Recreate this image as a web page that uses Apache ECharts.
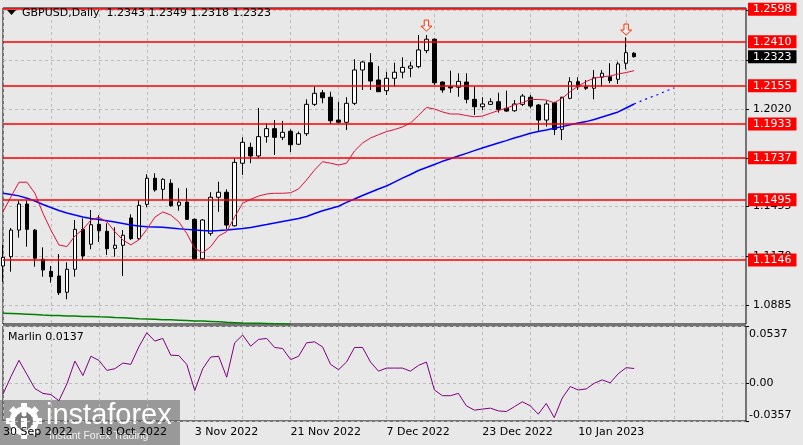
<!DOCTYPE html>
<html><head><meta charset="utf-8">
<script src="https://cdn.jsdelivr.net/npm/echarts@6/dist/echarts.min.js"></script>
<style>html,body{margin:0;padding:0;background:#e8e8e8}#c{width:803px;height:445px}</style>
</head><body><div id="c"></div>
<script>
const dates = ['30 Sep 2022','3 Oct 2022','4 Oct 2022','5 Oct 2022','6 Oct 2022','7 Oct 2022','10 Oct 2022','11 Oct 2022','12 Oct 2022','13 Oct 2022','14 Oct 2022','17 Oct 2022','18 Oct 2022',
'19 Oct 2022','20 Oct 2022','21 Oct 2022','24 Oct 2022','25 Oct 2022','26 Oct 2022','27 Oct 2022','28 Oct 2022','31 Oct 2022','1 Nov 2022','2 Nov 2022','3 Nov 2022',
'4 Nov 2022','7 Nov 2022','8 Nov 2022','9 Nov 2022','10 Nov 2022','11 Nov 2022','14 Nov 2022','15 Nov 2022','16 Nov 2022','17 Nov 2022','18 Nov 2022','21 Nov 2022',
'22 Nov 2022','23 Nov 2022','24 Nov 2022','25 Nov 2022','28 Nov 2022','29 Nov 2022','30 Nov 2022','1 Dec 2022','2 Dec 2022','5 Dec 2022','6 Dec 2022','7 Dec 2022',
'8 Dec 2022','9 Dec 2022','12 Dec 2022','13 Dec 2022','14 Dec 2022','15 Dec 2022','16 Dec 2022','19 Dec 2022','20 Dec 2022','21 Dec 2022','22 Dec 2022','23 Dec 2022',
'26 Dec 2022','27 Dec 2022','28 Dec 2022','29 Dec 2022','30 Dec 2022','2 Jan 2023','3 Jan 2023','4 Jan 2023','5 Jan 2023','6 Jan 2023','9 Jan 2023','10 Jan 2023',
'11 Jan 2023','12 Jan 2023','13 Jan 2023','16 Jan 2023','17 Jan 2023','18 Jan 2023','19 Jan 2023'];

const open  = [1.1111,1.1165,1.1319,1.1470,1.1319,1.1150,1.1080,1.1053,1.0959,1.1092,1.1323,1.1237,1.1352,1.1312,1.1213,1.1231,1.1389,1.1269,1.1468,1.1619,
1.1555,1.1590,1.1462,1.1481,1.1381,1.1153,1.1300,1.1509,1.1538,1.1344,1.1706,1.1798,1.1748,1.1860,1.1906,1.1856,1.1891,1.1816,1.1877,1.2047,
1.2114,1.2088,1.1956,1.1943,1.2053,1.2246,1.2288,1.2188,1.2126,1.2198,1.2233,1.2256,1.2265,1.2358,1.2424,1.2176,1.2149,1.2146,1.2176,1.2076,
1.2033,1.2047,1.2062,1.2024,1.2010,1.2047,1.2088,1.2043,1.1956,1.2056,1.1902,1.2082,1.2178,1.2149,1.2140,1.2204,1.2207,1.2192,1.2285,1.2343];
const high  = [1.1233,1.1331,1.1489,1.1489,1.1325,1.1219,1.1111,1.1180,1.1132,1.1377,1.1387,1.1435,1.1405,1.1358,1.1335,1.1319,1.1410,1.1493,1.1642,1.1648,
1.1619,1.1613,1.1561,1.1561,1.1387,1.1383,1.1538,1.1599,1.1555,1.1735,1.1856,1.1825,1.2026,1.1937,1.1956,1.1951,1.1902,1.1889,1.2076,1.2149,
1.2130,1.2120,1.2062,1.2088,1.2308,1.2300,1.2343,1.2269,1.2236,1.2288,1.2319,1.2294,1.2448,1.2448,1.2429,1.2180,1.2242,1.2227,1.2227,1.2149,
1.2088,1.2082,1.2114,1.2126,1.2072,1.2107,1.2101,1.2049,1.2068,1.2062,1.2091,1.2204,1.2204,1.2188,1.2246,1.2246,1.2285,1.2294,1.2435,1.2349];
const low   = [1.1020,1.1078,1.1275,1.1223,1.1107,1.1049,1.1014,1.0943,1.0918,1.1049,1.1146,1.1208,1.1250,1.1175,1.1165,1.1053,1.1262,1.1262,1.1451,1.1541,
1.1493,1.1454,1.1431,1.1377,1.1146,1.1146,1.1286,1.1425,1.1325,1.1339,1.1638,1.1706,1.1735,1.1825,1.1754,1.1840,1.1771,1.1812,1.1864,1.2037,
1.2053,1.1933,1.1937,1.1898,1.2043,1.2130,1.2130,1.2120,1.2101,1.2149,1.2198,1.2204,1.2256,1.2343,1.2159,1.2114,1.2114,1.2091,1.2053,1.1985,
1.2014,1.2043,1.1999,1.2004,1.2004,1.2037,1.2024,1.1893,1.1918,1.1869,1.1840,1.2076,1.2130,1.2130,1.2076,1.2149,1.2169,1.2165,1.2250,1.2318];
const close = [1.1161,1.1319,1.1470,1.1323,1.1156,1.1088,1.1049,1.0956,1.1092,1.1323,1.1169,1.1350,1.1315,1.1211,1.1231,1.1289,1.1269,1.1462,1.1619,1.1551,
1.1613,1.1460,1.1481,1.1381,1.1151,1.1377,1.1509,1.1538,1.1348,1.1711,1.1827,1.1748,1.1860,1.1906,1.1856,1.1885,1.1813,1.1877,1.2047,1.2111,
1.2085,1.1952,1.1943,1.2053,1.2246,1.2292,1.2182,1.2120,1.2198,1.2233,1.2261,1.2269,1.2362,1.2424,1.2172,1.2130,1.2142,1.2180,1.2076,1.2033,
1.2049,1.2062,1.2018,1.2008,1.2049,1.2095,1.2037,1.1956,1.2049,1.1902,1.2088,1.2178,1.2149,1.2140,1.2201,1.2227,1.2184,1.2281,1.2346,1.2323];

const maFast = [1.1425,1.1512,1.1596,1.1596,1.1532,1.1416,1.1319,1.1233,1.1223,1.1285,1.1323,1.1377,1.1393,1.1367,1.1310,1.1262,1.1233,1.1262,1.1323,1.1393,
1.1424,1.1406,1.1367,1.1300,1.1213,1.1188,1.1223,1.1285,1.1310,1.1396,1.1474,1.1497,1.1516,1.1528,1.1532,1.1532,1.1535,1.1557,1.1609,1.1667,
1.1715,1.1706,1.1696,1.1706,1.1777,1.1823,1.1852,1.1871,1.1889,1.1901,1.1916,1.1939,1.1982,1.2029,1.2020,1.2003,1.1991,1.1991,1.1982,1.1975,
1.1979,1.1995,1.2011,1.2024,1.2043,1.2056,1.2075,1.2075,1.2072,1.2056,1.2082,1.2121,1.2153,1.2179,1.2199,1.2207,1.2211,1.2223,1.2231,1.2242];
const maSlow = [1.1532,1.1525,1.1517,1.1503,1.1487,1.1467,1.1450,1.1432,1.1418,1.1406,1.1395,1.1386,1.1380,1.1373,1.1366,1.1357,1.1348,1.1343,1.1338,1.1337,
1.1335,1.1331,1.1326,1.1323,1.1319,1.1316,1.1314,1.1316,1.1319,1.1324,1.1328,1.1334,1.1343,1.1351,1.1360,1.1369,1.1377,1.1386,1.1398,1.1415,
1.1431,1.1444,1.1457,1.1479,1.1499,1.1519,1.1538,1.1557,1.1574,1.1597,1.1620,1.1641,1.1664,1.1681,1.1699,1.1717,1.1732,1.1748,1.1763,1.1779,
1.1794,1.1809,1.1823,1.1837,1.1852,1.1865,1.1880,1.1890,1.1898,1.1908,1.1918,1.1929,1.1939,1.1947,1.1959,1.1974,1.1988,1.2003,1.2026,1.2049];
const maSlowAheadStart = 79;
const maSlowAhead = [1.2049,1.2069,1.2087,1.2104,1.2124,1.2142];
const maLong = [1.0837,1.0836,1.0834,1.0832,1.0830,1.0827,1.0825,1.0824,1.0822,1.0821,1.0819,1.0819,1.0817,1.0816,1.0813,1.0811,1.0809,1.0806,1.0804,1.0802,
1.0800,1.0799,1.0797,1.0795,1.0793,1.0792,1.0790,1.0788,1.0785,1.0783,1.0781,1.0780,1.0779,1.0778,1.0777,1.0776,1.0774];
const marlin = [-0.0103,0.0062,0.0214,0.0081,-0.0052,-0.0097,-0.0109,-0.0166,-0.0008,0.0207,0.0071,0.0252,0.0214,0.0119,0.0135,0.0188,0.0176,0.0340,0.0474,0.0395,
0.0420,0.0262,0.0259,0.0176,-0.0071,0.0135,0.0245,0.0252,0.0055,0.0379,0.0452,0.0347,0.0411,0.0420,0.0335,0.0325,0.0221,0.0252,0.0379,0.0388,
0.0340,0.0176,0.0126,0.0198,0.0335,0.0335,0.0198,0.0112,0.0141,0.0141,0.0141,0.0112,0.0166,0.0198,-0.0065,-0.0119,-0.0119,-0.0097,-0.0214,-0.0255,
-0.0245,-0.0236,-0.0262,-0.0268,-0.0223,-0.0176,-0.0214,-0.0293,-0.0192,-0.0325,-0.0141,-0.0033,-0.0065,-0.0055,-0.0002,0.0030,0.0002,0.0087,0.0145,0.0137];

const levels = [1.2598, 1.2410, 1.2155, 1.1933, 1.1737, 1.1495, 1.1146];
const priceTicks = [1.0885, 1.1170, 1.1455, 1.1737, 1.2020, 1.2305, 1.2590];
const marlinTicks = [-0.0357, 0, 0.0537];
const arrowIdx = [53, 78];
const arrowPrice = [1.2503, 1.2480];
const totalSlots = 94;

const FONT = 'DejaVu Sans';
const cats = dates.slice();
for (let i = dates.length; i < totalSlots; i++) cats.push('+' + i);

const ohlc = open.map((o, i) => [o, close[i], low[i], high[i]]);
const aheadData = cats.map((c, i) => (i >= maSlowAheadStart && i < maSlowAheadStart + maSlowAhead.length) ? maSlowAhead[i - maSlowAheadStart] : null);
const last = dates.length - 1;

const gridLine = { show: true, interval: 5, lineStyle: { color: '#bcbcbc', type: [3, 3], width: 1 } };

const chart = echarts.init(document.getElementById('c'), null, { renderer: 'canvas' });
chart.setOption({
  animation: false,
  backgroundColor: '#e8e8e8',
  textStyle: { fontFamily: FONT },
  grid: [
    { left: 3, top: 8, width: 743, height: 316, show: true, borderColor: '#000', borderWidth: 1, backgroundColor: 'transparent' },
    { left: 3, top: 326, width: 743, height: 95, show: true, borderColor: '#000', borderWidth: 1, backgroundColor: 'transparent' }
  ],
  xAxis: [
    { type: 'category', gridIndex: 0, data: cats, boundaryGap: false, axisLine: { show: false }, axisTick: { show: false }, axisLabel: { show: false }, splitLine: gridLine },
    { type: 'category', gridIndex: 1, data: cats, boundaryGap: false, axisLine: { show: false }, axisTick: { show: false },
      axisLabel: { show: true, interval: 11, align: 'left', margin: 6, color: '#000', fontSize: 11, fontFamily: FONT,
        formatter: v => v.charAt(0) === '+' ? '' : v }, splitLine: gridLine }
  ],
  yAxis: [
    { type: 'value', gridIndex: 0, position: 'right', min: 1.07751, max: 1.26048,
      axisLine: { show: false },
      axisTick: { show: true, customValues: priceTicks, length: 3, lineStyle: { color: '#000' } },
      axisLabel: { customValues: priceTicks, formatter: v => v.toFixed(4), color: '#000', fontSize: 11, fontFamily: FONT, margin: 7 },
      splitLine: { show: true, lineStyle: { color: '#bcbcbc', type: [3, 3] } } },
    { type: 'value', gridIndex: 1, position: 'right', min: -0.0357, max: 0.0537,
      axisLine: { show: false },
      axisTick: { show: true, customValues: marlinTicks, length: 3, lineStyle: { color: '#000' } },
      axisLabel: { customValues: marlinTicks, color: '#000', fontSize: 11, fontFamily: FONT, margin: 3,
        formatter: v => {
          const s = v === 0 ? '0.00' : v.toFixed(4);
          if (v > 0.05) return '{t|' + s + '}';
          if (v < -0.03) return '{b|' + s + '}';
          return s;
        },
        rich: { t: { padding: [16, 0, 0, 0], fontSize: 11, color: '#000' }, b: { padding: [0, 0, 12, 0], fontSize: 11, color: '#000' } } },
      splitLine: { show: true, lineStyle: { color: '#bcbcbc', type: [3, 3] } } }
  ],
  series: [
    { type: 'line', name: 'MA long', xAxisIndex: 0, yAxisIndex: 0, data: maLong, symbol: 'none', silent: true,
      lineStyle: { color: '#008000', width: 1.5 } },
    { type: 'line', name: 'MA slow', xAxisIndex: 0, yAxisIndex: 0, data: maSlow, symbol: 'none', silent: true,
      lineStyle: { color: '#0000ff', width: 1.5 } },
    { type: 'line', name: 'MA slow ahead', xAxisIndex: 0, yAxisIndex: 0, data: aheadData, symbol: 'none', silent: true, connectNulls: false,
      lineStyle: { color: '#0000ff', width: 1.2, type: [2, 4] } },
    { type: 'line', name: 'MA fast', xAxisIndex: 0, yAxisIndex: 0, data: maFast, symbol: 'none', silent: true,
      lineStyle: { color: '#e0103c', width: 1 } },
    { type: 'candlestick', name: 'GBPUSD', xAxisIndex: 0, yAxisIndex: 0, data: ohlc, barWidth: 4, silent: true,
      itemStyle: { color: '#ffffff', color0: '#000000', borderColor: '#000000', borderColor0: '#000000', borderWidth: 1 } },
    { type: 'line', name: 'levels', xAxisIndex: 0, yAxisIndex: 0, data: [], z: 5, silent: true,
      markLine: {
        symbol: 'none', silent: true, animation: false, precision: 4,
        lineStyle: { color: '#ff0000', width: 1.5, type: 'solid' },
        label: { show: true, position: 'end', distance: 2, formatter: p => Number(p.value).toFixed(4), color: '#fff',
          backgroundColor: '#ff0000', padding: [1, 5, 0, 5], fontSize: 11, fontFamily: FONT, lineHeight: 12 },
        data: levels.map(v => ({ yAxis: v })).concat([{ yAxis: close[last], lineStyle: { color: 'rgba(0,0,0,0)' },
          label: { backgroundColor: '#000', color: '#fff' } }])
      },
      markPoint: {
        symbol: 'path://M3,0 L7,0 L7,6 L10,6 L5,11 L0,6 L3,6 Z', symbolSize: [11, 11], silent: true, animation: false,
        itemStyle: { color: 'rgba(255,255,255,0.35)', borderColor: '#ff3300', borderWidth: 1 },
        label: { show: false },
        data: arrowIdx.map((ix, k) => ({ coord: [ix, arrowPrice[k]] }))
      } },
    { type: 'line', name: 'Marlin', xAxisIndex: 1, yAxisIndex: 1, data: marlin, symbol: 'none', silent: true,
      lineStyle: { color: '#800080', width: 1 } }
  ],
  graphic: [
    { type: 'polygon', shape: { points: [[7, 10], [16, 10], [11.5, 15]] }, style: { fill: '#000' }, z: 10 },
    { type: 'text', x: 22, y: 13.5, z: 10, style: { text: 'GBPUSD,Daily  ' + [open[last], high[last], low[last], close[last]].map(v => v.toFixed(4)).join(' '),
      font: '11px "DejaVu Sans"', fill: '#000', verticalAlign: 'middle' } },
    { type: 'text', x: 8, y: 337, z: 10, style: { text: 'Marlin ' + marlin[last].toFixed(4), font: '11px "DejaVu Sans"', fill: '#000', verticalAlign: 'middle' } },
    { type: 'group', z: 20, children: [
      { type: 'rect', shape: { x: 0, y: 400, width: 180, height: 45 }, style: { fill: 'rgba(105,105,105,0.62)' } },
      { type: 'circle', shape: { cx: 24, cy: 421, r: 12 }, style: { fill: 'none', stroke: '#fff', lineWidth: 5 } },
      { type: 'rect', shape: { x: 21, y: 403, width: 6, height: 36 }, style: { fill: '#fff' } },
      { type: 'rect', shape: { x: 6, y: 418, width: 36, height: 6 }, style: { fill: '#fff' } },
      { type: 'rect', shape: { x: 21, y: 403, width: 6, height: 36 }, rotation: Math.PI / 4, originX: 24, originY: 421, style: { fill: '#fff' } },
      { type: 'rect', shape: { x: 21, y: 403, width: 6, height: 36 }, rotation: -Math.PI / 4, originX: 24, originY: 421, style: { fill: '#fff' } },
      { type: 'circle', shape: { cx: 24, cy: 421, r: 9 }, style: { fill: 'rgba(120,120,120,1)' } },
      { type: 'circle', shape: { cx: 24, cy: 414, r: 2.5 }, style: { fill: '#fff' } },
      { type: 'rect', shape: { x: 21, y: 418, width: 6, height: 11 }, style: { fill: '#fff' } },
      { type: 'text', x: 46, y: 401, style: { text: 'instaforex', font: '29px "Liberation Sans"', fill: '#fff' } },
      { type: 'text', x: 49, y: 431, style: { text: 'Instant Forex Trading', font: '10.5px "Liberation Sans"', fill: '#f0f0f0' } }
    ] }
  ]
});
</script></body></html>
